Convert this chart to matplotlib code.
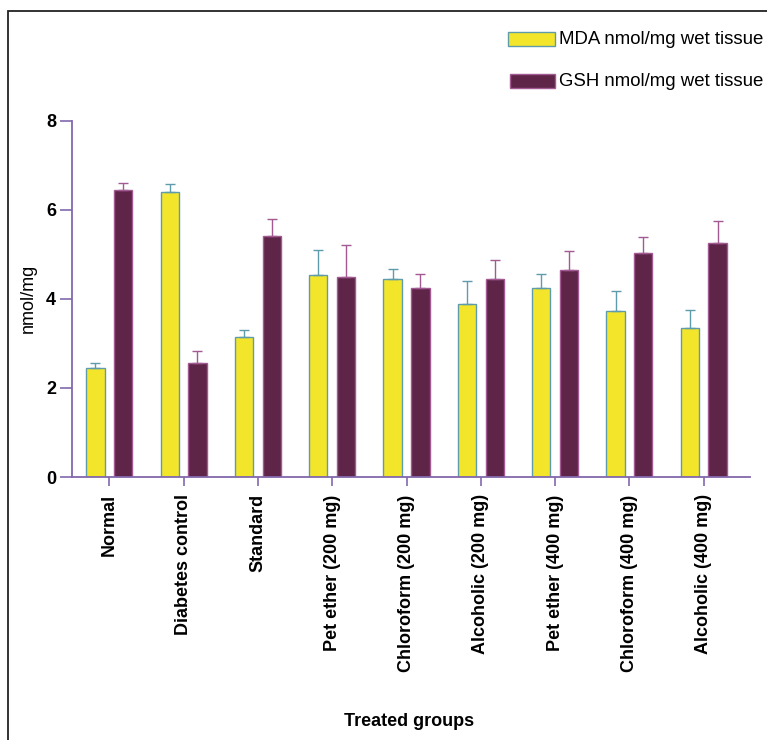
import matplotlib.pyplot as plt
import numpy as np
from matplotlib.patches import Rectangle

plt.rcParams['font.family'] = ['Liberation Sans', 'DejaVu Sans']

groups = ['Normal', 'Diabetes control', 'Standard', 'Pet ether (200 mg)',
          'Chloroform (200 mg)', 'Alcoholic (200 mg)', 'Pet ether (400 mg)',
          'Chloroform (400 mg)', 'Alcoholic (400 mg)']
mda = [2.44, 6.39, 3.14, 4.54, 4.45, 3.89, 4.24, 3.72, 3.35]
mda_err = [0.12, 0.18, 0.15, 0.56, 0.22, 0.52, 0.32, 0.45, 0.39]
gsh = [6.44, 2.56, 5.40, 4.49, 4.24, 4.45, 4.65, 5.03, 5.25]
gsh_err = [0.15, 0.26, 0.39, 0.73, 0.32, 0.42, 0.43, 0.35, 0.50]

yellow = '#f3e62a'
plum = '#5e2549'
teal = '#5f9cab'
pink = '#a35a92'
axcol = '#8268ad'

fig = plt.figure(figsize=(7.67, 7.40), dpi=100)
ax = fig.add_axes([72/767, 1-477/740, (750-72)/767, (477-120.7)/740])

x = np.arange(len(groups))
w = 0.246
off = 0.187
ax.bar(x - off, mda, w, color=yellow, edgecolor=teal, linewidth=1.0,
       yerr=[np.zeros(len(mda)), mda_err], error_kw=dict(ecolor=teal, elinewidth=1.0, capsize=3.5, capthick=1.0))
ax.bar(x + off, gsh, w, color=plum, edgecolor=pink, linewidth=1.0,
       yerr=[np.zeros(len(gsh)), gsh_err], error_kw=dict(ecolor=pink, elinewidth=1.0, capsize=3.5, capthick=1.0))

ax.set_xlim(-0.502, 8.623)
ax.set_ylim(0, 8)
ax.set_yticks([0, 2, 4, 6, 8])
ax.set_xticks(x)
ax.set_xticklabels(groups, rotation=90, fontsize=13, fontweight='bold')
ax.set_yticklabels(['0', '2', '4', '6', '8'], fontsize=13, fontweight='bold')
for s in ['top', 'right']:
    ax.spines[s].set_visible(False)
for s in ['left', 'bottom']:
    ax.spines[s].set_color(axcol)
    ax.spines[s].set_linewidth(1.3)
ax.tick_params(axis='y', length=8.5, width=1.2, color=axcol, pad=3)
ax.tick_params(axis='x', length=6.5, width=1.2, color=axcol, pad=6)
ax.patch.set_alpha(0)

fig.text(28/767, 1-298/740, 'nmol/mg', rotation=90, fontsize=13, ha='center', va='center')
fig.text(409/767, 1-721/740, 'Treated groups', fontsize=13, fontweight='bold', ha='center', va='center')

# legend drawn by hand
fig.patches.append(Rectangle((508/767, 1-46/740), 47/767, 14/740, transform=fig.transFigure,
                             facecolor=yellow, edgecolor=teal, linewidth=1.0))
fig.patches.append(Rectangle((510/767, 1-88/740), 45/767, 14/740, transform=fig.transFigure,
                             facecolor=plum, edgecolor=pink, linewidth=1.0))
fig.text(559/767, 1-40/740, 'MDA nmol/mg wet tissue', fontsize=13.4, ha='left', va='center')
fig.text(559/767, 1-81/740, 'GSH nmol/mg wet tissue', fontsize=13.4, ha='left', va='center')

# outer frame
fig.patches.append(Rectangle((8/767, -0.1), 1.2, 1.1 - 11/740, transform=fig.transFigure,
                             fill=False, edgecolor='#222222', linewidth=1.3))

fig.savefig('out.png', dpi=100)
